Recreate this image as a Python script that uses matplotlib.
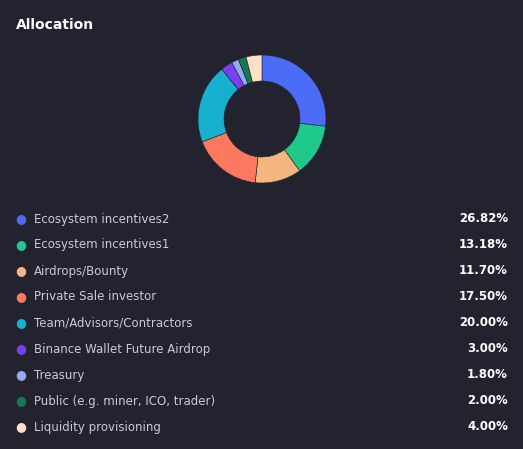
import matplotlib.pyplot as plt

labels = ["Ecosystem incentives2", "Ecosystem incentives1", "Airdrops/Bounty",
          "Private Sale investor", "Team/Advisors/Contractors",
          "Binance Wallet Future Airdrop", "Treasury",
          "Public (e.g. miner, ICO, trader)", "Liquidity provisioning"]
values = [26.82, 13.18, 11.70, 17.50, 20.00, 3.00, 1.80, 2.00, 4.00]
colors = ["#4a6cf7", "#1fc98a", "#f4b57f", "#fb7a5f", "#18b0cf",
          "#7b3ff2", "#96a9f7", "#117b4f", "#fde0c6"]

W, H = 523, 449
bg = "#22232f"
fig = plt.figure(figsize=(W / 100, H / 100), dpi=100, facecolor=bg)

# donut: center (262,119), outer r 64 px
r = 64
ax = fig.add_axes([(262 - r) / W, 1 - (119 + r) / H, 2 * r / W, 2 * r / H])
ax.set_facecolor(bg)
ax.pie(values, colors=colors, startangle=90, counterclock=False,
       radius=1, wedgeprops=dict(width=1 - 38 / 64, linewidth=0.4, edgecolor=bg))
ax.set_xlim(-1, 1)
ax.set_ylim(-1, 1)
ax.set_aspect("equal")
ax.axis("off")

fig.text(16 / W, 1 - 25 / H, "Allocation", color="white", fontsize=10,
         fontweight="bold", va="center")

for i, (lab, v, c) in enumerate(zip(labels, values, colors)):
    y = 1 - (219 + i * 26) / H
    fig.text(21 / W, y, "\u25cf", color=c, fontsize=9, ha="center", va="center")
    fig.text(34 / W, y, lab, color="#c9cbd6", fontsize=8.5, va="center")
    fig.text(508 / W, y, f"{v:.2f}%", color="white", fontsize=8.5,
             fontweight="bold", ha="right", va="center")

fig.savefig("out.png", dpi=100, facecolor=bg)
